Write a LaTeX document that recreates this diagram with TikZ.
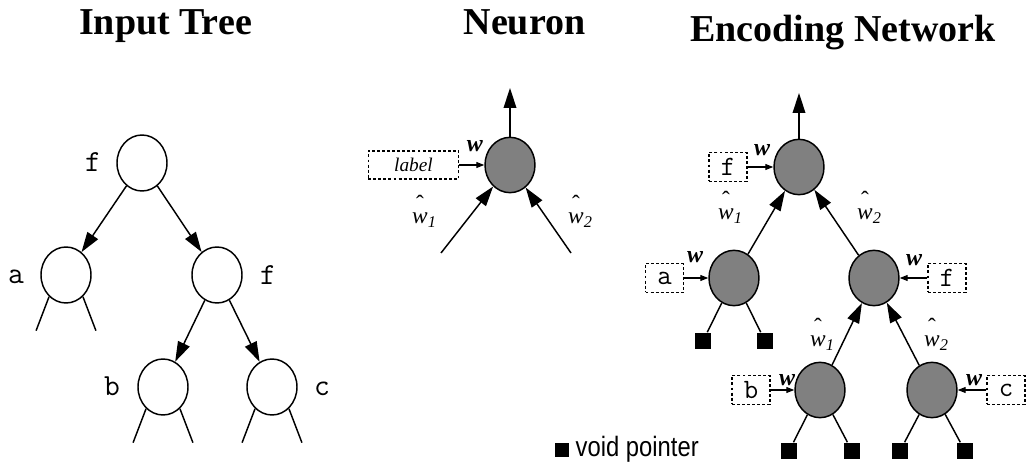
\documentclass[tikz,border=0pt]{standalone}
\usepackage{fontspec}
\setmainfont{Liberation Serif}
\newfontfamily\narrowsans[FakeStretch=0.85]{Liberation Sans}
\usetikzlibrary{shapes.geometric,arrows.meta}

% italic w with a circumflex set well above it and an italic index
\newcommand\hatw[1]{\textit{w}\llap{\makebox[0.667em]{\raisebox{0.55em}{\char"02C6}}}\rlap{\textsubscript{\textit{#1}}}}

\tikzset{
  title/.style={font=\fontsize{28.5pt}{30pt}\selectfont\bfseries, inner sep=0pt},
  treenode/.style={ellipse, draw, fill=white, minimum width=37.5pt, minimum height=42pt, inner sep=0pt},
  unit/.style={ellipse, draw, fill=black!50, minimum width=37.5pt, minimum height=41.5pt, inner sep=0pt},
  sym/.style={font=\fontsize{23pt}{25pt}\ttfamily, inner sep=0pt},
  lblbox/.style={draw, line width=0.9pt, dash pattern=on 2.2pt off 1.6pt, minimum width=28.5pt, minimum height=21.5pt, inner sep=0pt, font=\fontsize{21pt}{23pt}\ttfamily},
  bigarrow/.style={-{Triangle[length=15pt,width=9.5pt]}},
  smallarrow/.style={-{Triangle[length=6pt,width=4.5pt]}, line width=0.9pt},
  wlab/.style={font=\fontsize{18pt}{20pt}\selectfont\bfseries\itshape, inner sep=0pt},
  hatlab/.style={font=\fontsize{17.5pt}{19pt}\selectfont, inner sep=0pt, anchor=base},
  voidsq/.style={rectangle, fill=black, minimum size=12pt, inner sep=0pt},
}

\begin{document}
\begin{tikzpicture}[x=0.75pt, y=-0.75pt, line width=1.1pt]
\useasboundingbox (0,0) rectangle (1026,463);

% headings
\node[title, anchor=base] (t1) at (165.5,35) {Input Tree};
\node[title, anchor=base] (t2) at (524.5,35) {Neuron};
\node[title, anchor=base] (t3) at (843,42) {Encoding Network};

% ---- input tree ----
\node[treenode] (r)  at (142,163) {};
\node[treenode] (ta) at (66,275) {};
\node[treenode] (tf) at (217,275) {};
\node[treenode] (tb) at (163,387) {};
\node[treenode] (tc) at (272,387) {};
\node[sym] (lr) at (93,162) {f};
\node[sym] (la) at (16,277) {a};
\node[sym] (lf) at (268,275) {f};
\node[sym] (lb) at (112,386) {b};
\node[sym] (lc) at (322,389) {c};
\draw[bigarrow] (r) -- (ta);
\draw[bigarrow] (r) -- (tf);
\draw[bigarrow] (tf) -- (tb);
\draw[bigarrow] (tf) -- (tc);
\foreach \t in {ta,tb,tc}{
  \draw (\t.232) -- ++(-13,34);
  \draw (\t.308) -- ++(13,34);
}

% ---- single neuron ----
\node[unit] (n) at (510,165) {};
\node[lblbox, minimum width=68pt, minimum height=21pt, font=\fontsize{14.5pt}{16pt}\selectfont\itshape] (nl) at (413.5,165) {label};
\draw[smallarrow] (nl.east) -- (n.west);
\node[wlab] (nw) at (475,146) {w};
\coordinate (nout) at (510,88);
\coordinate (nin1) at (441,253);
\coordinate (nin2) at (571,253);
\draw[bigarrow] (n) -- (nout);
\draw[bigarrow] (nin1) -- (n);
\draw[bigarrow] (nin2) -- (n);
\node[hatlab] (nh1) at (420,224) {\hatw{1}};
\node[hatlab] (nh2) at (576,224) {\hatw{2}};

% ---- encoding network ----
\node[unit] (e0) at (799,167) {};
\node[unit] (e1) at (734,278) {};
\node[unit] (e2) at (874,278) {};
\node[unit] (e3) at (820,390) {};
\node[unit] (e4) at (932,390) {};

\node[lblbox] (b0) at (728,167) {f};
\node[lblbox] (b1) at (664.5,278) {a};
\node[lblbox] (b2) at (947,278) {f};
\node[lblbox] (b3) at (751,390) {b};
\node[lblbox] (b4) at (1006,390) {c};
\draw[smallarrow] (b0.east) -- (e0.west);
\draw[smallarrow] (b1.east) -- (e1.west);
\draw[smallarrow] (b2.west) -- (e2.east);
\draw[smallarrow] (b3.east) -- (e3.west);
\draw[smallarrow] (b4.west) -- (e4.east);

\node[wlab] (w0) at (762,150) {w};
\node[wlab] (w1) at (695,257) {w};
\node[wlab] (w2) at (914,260) {w};
\node[wlab] (w3) at (787,380) {w};
\node[wlab] (w4) at (974,380) {w};

\coordinate (eout) at (799,93);
\draw[bigarrow] (e0) -- (eout);
\draw[bigarrow] (e1) -- (e0);
\draw[bigarrow] (e2) -- (e0);
\draw[bigarrow] (e3) -- (e2);
\draw[bigarrow] (e4) -- (e2);

\node[hatlab] (h1) at (726,220) {\hatw{1}};
\node[hatlab] (h2) at (865,220) {\hatw{2}};
\node[hatlab] (h3) at (818,347) {\hatw{1}};
\node[hatlab] (h4) at (932,347) {\hatw{2}};

% void pointers
\node[voidsq] (s1) at (703,341) {};
\node[voidsq] (s2) at (765,341) {};
\node[voidsq] (s3) at (789,451) {};
\node[voidsq] (s4) at (852,451) {};
\node[voidsq] (s5) at (900,451) {};
\node[voidsq] (s6) at (965,451) {};
\draw (e1) -- (s1);
\draw (e1) -- (s2);
\draw (e3) -- (s3);
\draw (e3) -- (s4);
\draw (e4) -- (s5);
\draw (e4) -- (s6);

% legend
\node[voidsq, minimum size=11pt] (ls) at (562,450) {};
\node[anchor=base west, inner sep=0pt, font=\fontsize{21pt}{23pt}\narrowsans] (lt) at (575,457) {void pointer};
\end{tikzpicture}
\end{document}
